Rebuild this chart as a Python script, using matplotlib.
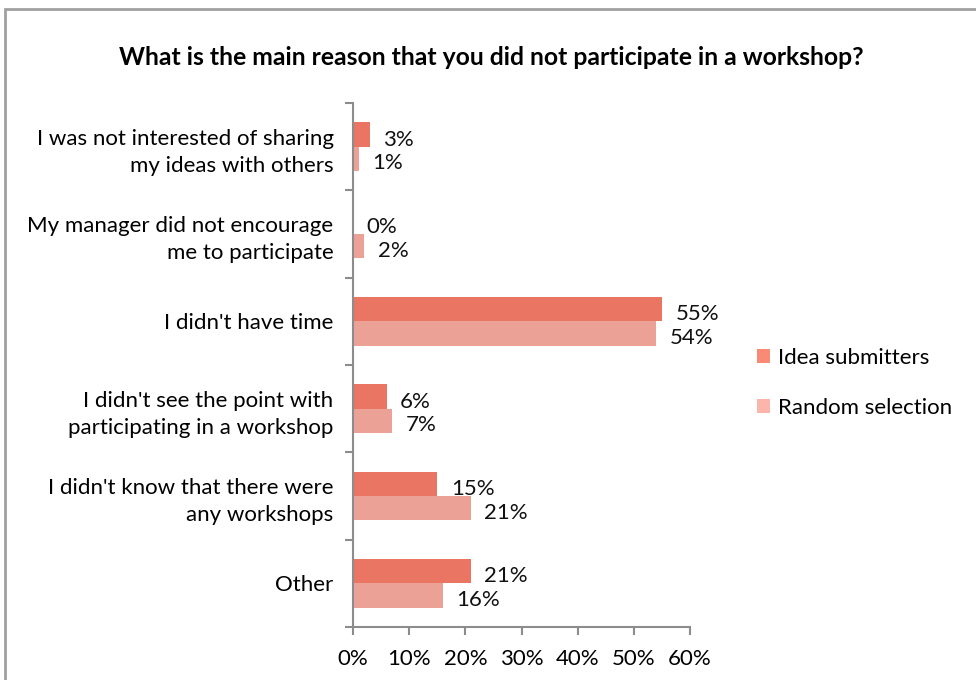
import matplotlib.pyplot as plt
import numpy as np
from matplotlib.patches import Patch, Rectangle

plt.rcParams['font.family'] = ['Lato', 'DejaVu Sans']

categories = ["I was not interested of sharing\nmy ideas with others",
              "My manager did not encourage\nme to participate",
              "I didn't have time",
              "I didn't see the point with\nparticipating in a workshop",
              "I didn't know that there were\nany workshops",
              "Other"]
idea = [3, 0, 55, 6, 15, 21]
random_sel = [1, 2, 54, 7, 21, 16]
series_names = ["Idea submitters", "Random selection"]
xticks = [0, 10, 20, 30, 40, 50, 60]

c_idea = "#e97562"
c_rand = "#eba195"
fs = 16

fig = plt.figure(figsize=(9.76, 6.8), dpi=100)
ax = fig.add_axes([0.3617, 0.0779, 0.7070 - 0.3617, 0.8485 - 0.0779])

n = len(categories)
y = np.arange(n)
h = 0.28
ax.barh(y - h / 2, idea, height=h, color=c_idea, zorder=2)
ax.barh(y + h / 2, random_sel, height=h, color=c_rand, zorder=2)

for i in range(n):
    ax.text(idea[i] + 2.4, y[i] - h / 2 + 0.06, f"{idea[i]}%", fontsize=fs,
            va='center', ha='left', color='#111111')
    ax.text(random_sel[i] + 2.4, y[i] + h / 2 + 0.05, f"{random_sel[i]}%", fontsize=fs,
            va='center', ha='left', color='#111111')

ax.set_ylim(n - 0.5, -0.5)
ax.set_xlim(0, 60)
ax.set_xticks(xticks)
ax.set_xticklabels([f"{v}%" for v in xticks], fontsize=fs)
ax.set_yticks(np.arange(n + 1) - 0.5)
ax.set_yticklabels([])
ax.set_yticks(y, minor=True)
ax.set_yticklabels(categories, minor=True, fontsize=fs, linespacing=1.45)
ax.tick_params(axis='y', which='minor', length=0, pad=14)
ax.tick_params(axis='y', which='major', length=6, width=1.5, color='#8c8c8c', direction='out')
ax.tick_params(axis='x', length=6, width=1.5, color='#8c8c8c', direction='out', pad=10)
for s in ['top', 'right']:
    ax.spines[s].set_visible(False)
for s in ['left', 'bottom']:
    ax.spines[s].set_color('#8c8c8c')
    ax.spines[s].set_linewidth(1.5)

fig.text(0.503, 0.916, "What is the main reason that you did not participate in a workshop?",
         ha='center', va='center', fontsize=17.8, fontweight='bold')

handles = [Patch(facecolor="#f98a76", edgecolor='none'),
           Patch(facecolor="#fbb5aa", edgecolor='none')]
fig.legend(handles, series_names, loc='upper left', bbox_to_anchor=(0.755, 0.518),
           frameon=False, fontsize=fs, handlelength=0.6, handleheight=0.6,
           handletextpad=0.35, labelspacing=1.35)

# outer frame
fig.add_artist(Rectangle((0.005, -0.1), 1.2, 1.087, transform=fig.transFigure,
                         fill=False, edgecolor='#a0a0a0', linewidth=2))

fig.savefig("out.png", dpi=100)
